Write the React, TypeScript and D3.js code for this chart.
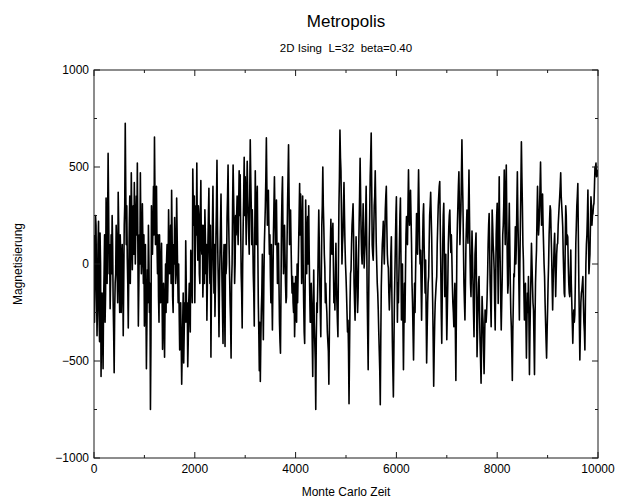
import React from 'react';
import * as d3 from 'd3';

// magnetisation: seg* at every 20 MC steps, mid* at the 10-step points in between
const STEP = 10;
const seg0 = [150, -120, 200, -370, 100, -250, 160, -580, -150, -540, -50, -300, 340, -100, 570, -50, -230, 150, 250, -200,
  -560, -100, 200, -50, 370, -100, 150, -250, 100, -370, 200, 725, 100, 30, -330, 200, -100, 470, -30, 300,
  420, 0, 350, 520, -320, 150, 470, -50, 310, -100, -320, 100, -540, -30, 200, -250, -750, 300, 50, 400,
  655, 100, 400, -50, -170, 150, -200, 107, -440, -100, -480, 0, 20, -200, 280, -50, 200, 380, -170, 100,
  240, -100, 340, -50, 0, -443, -200, -620, -300, -510, -200, 120, -300, -530, -200, -240, 70, -100, 490, 200];
const mid0 = [-300, 250, -100, -200, 220, -400, 0, -300, -350, -200, 150, -150, 100, 200, 300, 100, -80, -50, 100, -350,
  -250, -50, 100, -200, 200, -250, 50, -100, -50, -100, 300, 400, 300, -100, -50, 350, 100, 250, 150, 50,
  200, 200, 150, 100, -100, 0, 150, 50, 100, 150, -150, -200, -300, -200, 0, -100, -400, 100, 200, 150,
  350, 250, 100, 150, -300, -50, 0, -150, -250, -300, -200, -250, 100, -50, 100, 50, -100, 150, -250, 0,
  100, -50, 150, -200, -250, -300, -400, -450, -150, -350, -300, -100, -200, -400, -100, -350, 0, -200, 300, 350];
const seg1 = [-200, 300, 520, 20, 250, -100, 430, 50, -170, 200, 280, -50, -290, 100, 390, -100, -480, 0, 400, -150,
  -270, 150, 535, 0, -375, 50, 360, -100, -410, 100, -425, -50, 240, 510, 100, -200, -485, 0, 510, 200,
  0, 150, 350, 100, 480, 460, -50, -330, 200, 550, 450, 100, 530, 250, 50, 640, 300, 280, -50, -320,
  480, 100, 400, -200, -550, -605, -237, 50, -390, 100, 300, 650, 200, 380, 50, -65, 100, -340, 150, 450,
  100, 330, -100, 107, -300, -460, 200, 450, -50, 200, -100, -170, 300, 615, 100, 278, -50, -65, -250, -375];
const mid1 = [50, 150, 200, 300, -50, 250, 100, 200, -50, -100, 150, 100, -100, 250, 50, 200, -150, 200, 100, 100,
  -100, 300, 200, -150, -100, 200, 100, -250, 0, -200, 100, 0, 350, 250, -50, -300, -100, 300, 350, -100,
  250, 250, 200, 300, 250, 200, -150, 0, 350, 250, 300, 350, 350, 150, 350, 450, 100, 150, -150, 150,
  250, 300, 100, -350, -300, -400, -150, -200, -100, 200, 450, 400, 300, 200, 150, -200, -150, -100, 300, 250,
  200, 100, -50, -100, -400, -150, 350, 150, 100, 50, -200, 100, 450, 350, 200, 100, -150, -200, -100, -250];
const seg2 = [-65, -300, -200, 100, 415, 360, -100, 350, -200, -410, 330, -50, 244, 300, -150, -300, -200, -580, -31, -400,
  -750, -200, -100, 278, -100, -375, 200, 500, 190, -20, -100, -250, -400, -620, -100, 230, 50, 210, -200, -237,
  107, -200, -375, 300, 690, 480, 0, 150, 420, 100, -65, -250, -290, -720, -200, -30, 200, 310, -100, -290,
  140, -100, -168, 200, 545, 160, 0, 310, -20, 100, 400, -150, -545, 100, 450, 675, 100, 20, 300, 480,
  107, -100, -237, -450, -725, -120, 100, 220, 0, 280, 400, 50, -20, -237, -100, 140, -400, -685, -200, 100];
const mid2 = [-250, 0, -50, 250, 150, 200, 100, 0, -350, -100, 100, 150, 0, 50, -300, -100, -400, -250, -300, -500,
  -400, -250, 100, 100, -250, -100, 300, 300, 50, -200, -200, -350, -450, -350, 100, 100, 150, 0, -100, -50,
  -100, -300, 0, 450, 550, 250, 100, 300, 250, 0, -150, -350, -450, -450, -50, 100, 250, 150, -200, -100,
  0, -250, 50, 350, 350, 50, 150, 150, 50, 250, 150, -350, -200, 250, 550, 400, 50, 150, 350, 300,
  0, -150, -350, -550, -400, 0, 150, 100, 150, 350, 200, 0, -150, -150, 50, -150, -550, -450, -50, 250];
const seg3 = [347, -300, -200, 100, 340, -289, 0, -545, -100, -50, 244, 100, 485, 200, 380, 107, -200, -495, -100, -50,
  260, 50, 485, 100, 70, -290, 100, 310, -30, 20, -510, -200, -65, 250, 370, 140, -200, -630, -300, -150,
  -65, 200, 350, 425, 0, -409, 100, 313, -168, 50, -390, -100, 192, 278, 60, 40, -200, -323, -100, -600,
  72, 300, 475, 100, 278, 640, 313, -100, -289, 100, 278, 107, 484, 50, -168, 170, -100, -375, 50, 160,
  -478, -200, -65, -400, -615, -168, -300, -565, -237, -300, -168, 100, 260, -100, -323, 278, 100, -31, -340, 150];
const mid3 = [0, -100, -50, 250, 50, -150, -300, -300, -300, 150, 200, 300, 300, 300, 250, -100, -350, -300, -250, 100,
  150, 300, 300, 0, -100, -100, 250, 100, -150, -250, -350, -100, 100, 300, 250, -50, -400, -450, -200, -100,
  100, 300, 400, 200, -250, -150, 250, 100, -50, -200, -250, 100, 250, 150, 150, -100, -250, -200, -350, -250,
  200, 400, 300, 200, 450, 450, 100, -200, -100, 200, 200, 300, 250, -100, 0, 50, -250, -150, 100, -150,
  -350, -100, -250, -500, -400, -250, -450, -400, -250, -250, -50, 200, 100, -200, -50, 200, 50, -200, -100, 250];
const seg4 = [313, -203, 450, 0, -340, -65, 200, 484, 100, 510, 21, -100, 313, -100, -323, -600, -200, -65, 192, 100,
  475, 100, -289, 200, 630, 300, 21, -289, -100, -485, -150, -65, -570, -200, 107, -100, -237, -570, -100, 72,
  400, 150, 278, 525, 200, 360, 100, -65, -300, -485, -237, 0, 230, 278, 50, -237, 0, 158, -168, 50,
  107, 250, 347, 470, 300, 192, -50, -168, 300, 100, 140, -100, -168, 72, -200, -409, -237, -260, 107, 300,
  415, -100, -495, -200, -134, -65, -300, -443, 0, 150, 381, -50, 50, 347, 200, 260, 313, 500, 520, 484];
const mid4 = [50, 200, 150, -200, -200, 150, 300, 250, 350, 250, -150, 150, 100, -250, -450, -350, -50, 50, 0, 300,
  250, -100, 0, 400, 450, 100, -150, -200, -300, -300, -250, -300, -350, -50, 0, -200, -400, -300, 0, 250,
  250, 200, 400, 350, 300, 200, 0, -200, -400, -350, -100, 150, 300, 150, -100, -100, 100, 0, -50, 100,
  200, 300, 400, 350, 250, 50, -150, 100, 250, 150, 0, -150, -50, -100, -300, -300, -300, -100, 200, 350,
  150, -300, -350, -150, -100, -200, -350, -200, 100, 250, 150, 0, 200, 300, 250, 300, 400, 500, 450, 480];
const lastValue = 450;

const segments = [seg0, seg1, seg2, seg3, seg4];
const mids = [mid0, mid1, mid2, mid3, mid4];
const magnetisation: number[] = [];
segments.forEach((s, k) => s.forEach((v, i) => magnetisation.push(v, mids[k][i])));
magnetisation.push(lastValue);

const xTicks = [0, 2000, 4000, 6000, 8000, 10000];
const xMinor = [1000, 3000, 5000, 7000, 9000];
const yTicks = [-1000, -500, 0, 500, 1000];
const yMinor = [-750, -250, 250, 750];

const W = 621;
const H = 504;
const left = 94;
const right = 598;
const top = 70;
const bottom = 458;
const font = '"Liberation Sans", Arial, Helvetica, sans-serif';

export default function App() {
  const x = d3.scaleLinear().domain([0, 10000]).range([left, right]);
  const y = d3.scaleLinear().domain([-1000, 1000]).range([bottom, top]);

  const line = d3.line<number>()
    .x((d, i) => x(i * STEP))
    .y(d => y(d));

  const frame = '#1a1a1a';

  return (
    <svg width={W} height={H} style={{ position: 'absolute', left: 0, top: 0, background: '#fff' }}
      fontFamily={font}>
      <text x={(left + right) / 2} y={27} textAnchor="middle" fontSize={17}>Metropolis</text>
      <text x={(left + right) / 2} y={52} textAnchor="middle" fontSize={11.5}
        style={{ whiteSpace: 'pre' }}>{'2D Ising  L=32  beta=0.40'}</text>

      <defs>
        <clipPath id="plot">
          <rect x={left} y={top} width={right - left} height={bottom - top} />
        </clipPath>
      </defs>
      <path d={line(magnetisation) || ''} fill="none" stroke="#000" strokeWidth={1.6}
        strokeLinejoin="round" clipPath="url(#plot)" />

      <rect x={left} y={top} width={right - left} height={bottom - top} fill="none" stroke={frame} strokeWidth={1} />

      {xTicks.map(t => (
        <g key={'x' + t}>
          <line x1={x(t)} x2={x(t)} y1={bottom} y2={bottom - 6} stroke={frame} />
          <line x1={x(t)} x2={x(t)} y1={top} y2={top + 6} stroke={frame} />
          <text x={x(t)} y={473} textAnchor="middle" fontSize={12}>{t}</text>
        </g>
      ))}
      {xMinor.map(t => (
        <g key={'xm' + t}>
          <line x1={x(t)} x2={x(t)} y1={bottom} y2={bottom - 3} stroke={frame} />
          <line x1={x(t)} x2={x(t)} y1={top} y2={top + 3} stroke={frame} />
        </g>
      ))}
      {yTicks.map(t => (
        <g key={'y' + t}>
          <line x1={left} x2={left + 6} y1={y(t)} y2={y(t)} stroke={frame} />
          <line x1={right} x2={right - 6} y1={y(t)} y2={y(t)} stroke={frame} />
          <text x={left - 5} y={y(t) + 4} textAnchor="end" fontSize={12}>{t < 0 ? '\u2212' + Math.abs(t) : t}</text>
        </g>
      ))}
      {yMinor.map(t => (
        <g key={'ym' + t}>
          <line x1={left} x2={left + 3} y1={y(t)} y2={y(t)} stroke={frame} />
          <line x1={right} x2={right - 3} y1={y(t)} y2={y(t)} stroke={frame} />
        </g>
      ))}

      <text x={(left + right) / 2} y={496} textAnchor="middle" fontSize={12}>Monte Carlo Zeit</text>
      <text transform={`translate(22,${(top + bottom) / 2}) rotate(-90)`} textAnchor="middle" fontSize={12}>Magnetisierung</text>
    </svg>
  );
}
